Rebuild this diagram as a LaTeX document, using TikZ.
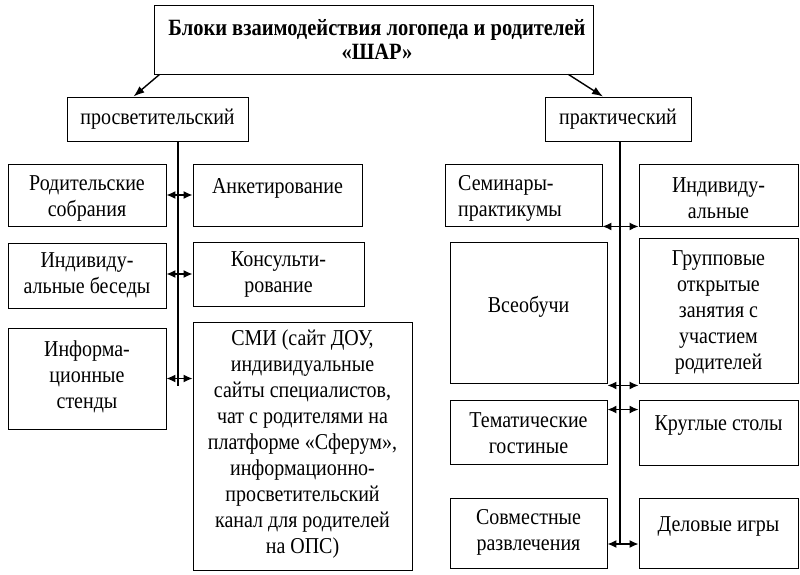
\documentclass[tikz,border=0pt]{standalone}
\usepackage{fontspec}
\setmainfont{Liberation Serif}[FakeStretch=0.88]
\usetikzlibrary{arrows.meta,calc}
\tikzset{
 boxst/.style={draw=black, line width=0.9pt, inner sep=0pt},
 txt/.style={align=center, font=\fontsize{22.7}{26}\selectfont, inner sep=0pt},
 ttl/.style={align=center, font=\fontsize{23.3}{24}\selectfont\bfseries, inner sep=0pt},
 dbl/.style={{Latex[length=9pt,width=8pt]}-{Latex[length=9pt,width=8pt]}, line width=1.4pt},
 trunk/.style={line width=1.8pt},
 downarr/.style={-{Latex[length=11pt,width=8pt]}, line width=1.4pt},
}
\newcommand{\bx}[6]{\node[boxst, minimum width=#4pt, minimum height=#5pt] (#1) at (#2,#3) {};}
\begin{document}
\begin{tikzpicture}[x=1pt,y=-1pt]
\useasboundingbox (0,0) rectangle (800,575);
% boxes
\bx{title}{373.5}{39.5}{439}{69}{}
\bx{pros}{157.5}{119}{181}{44}{}
\bx{prak}{618}{119}{146}{44}{}
\bx{rod}{87}{195}{158}{62}{}
\bx{ank}{277.5}{195}{169}{62}{}
\bx{ind}{87}{275.5}{158}{65}{}
\bx{kon}{278.5}{274}{171}{64}{}
\bx{inf}{87}{378.5}{158}{101}{}
\bx{smi}{302.5}{446}{219}{248}{}
\bx{sem}{523.5}{195}{157}{62}{}
\bx{indb}{718.5}{195}{159}{62}{}
\bx{vse}{528.5}{312.5}{157}{141}{}
\bx{grp}{718.5}{310.5}{159}{145}{}
\bx{tem}{528.5}{432}{157}{64}{}
\bx{kru}{718.5}{432.5}{159}{65}{}
\bx{sov}{528.5}{533}{157}{70}{}
\bx{del}{718.5}{533}{159}{70}{}
% texts
\node[ttl] (ttitle) at (377,39) {Блоки взаимодействия логопеда и родителей\\«ШАР»};
\node[txt] (tpros) at (pros) {просветительский};
\node[txt] (tprak) at (prak) {практический};
\node[txt] (trod) at ([yshift=-3pt]rod.center) {Родительские\\собрания};
\node[txt] (tank) at (277.5,188) {Анкетирование};
\node[txt] (tind) at (ind) {Индивиду-\\альные беседы};
\node[txt] (tkon) at (kon) {Консульти-\\рование};
\node[txt] (tinf) at ([yshift=2pt]inf.center) {Информа-\\ционные\\стенды};
\node[txt] (tsmi) at ([yshift=2pt]smi.center) {СМИ (сайт ДОУ,\\индивидуальные\\сайты специалистов,\\чат с родителями на\\платформе «Сферум»,\\информационно-\\просветительский\\канал для родителей\\на ОПС)};
\node[txt, align=left, anchor=west] (tsem) at (458,198) {Семинары-\\практикумы};
\node[txt] (tindb) at ([yshift=-3pt]indb.center) {Индивиду-\\альные};
\node[txt] (tvse) at (528.5,307) {Всеобучи};
\node[txt] (tgrp) at ([yshift=-2pt]grp.center) {Групповые\\открытые\\занятия с\\участием\\родителей};
\node[txt] (ttem) at ([yshift=-1pt]tem.center) {Тематические\\гостиные};
\node[txt] (tkru) at (718.5,426) {Круглые столы};
\node[txt] (tsov) at ([yshift=1pt]sov.center) {Совместные\\развлечения};
\node[txt] (tdel) at (718.5,526) {Деловые игры};
% trunks
\coordinate (lbot) at (178,386);
\coordinate (rbot) at (620,545);
\draw[trunk] (pros.south -| lbot) -- (lbot);
\draw[trunk] (prak.south -| rbot) -- (rbot);
% top arrows
\draw[downarr] ([xshift=6pt]title.south west) -- ([xshift=-24pt]pros.north);
\draw[downarr] ([xshift=-25pt]title.south east) -- ([xshift=-15pt]prak.north);
% left arrows
\draw[dbl] (rod.east) -- (ank.west);
\draw[dbl] (ind.east |- kon.west) -- (kon.west);
\draw[dbl] (inf.east) -- (inf.east -| smi.west);
% right arrows
\draw[dbl] (sem.south east) -- (indb.south west);
\draw[dbl] ([yshift=-2pt]vse.south east) -- ([yshift=-2pt]grp.south west);
\draw[dbl] ([yshift=-10pt]tem.north east) -- ([yshift=-10pt]tem.north east -| kru.west);
\draw[dbl] ([yshift=-11pt]sov.east) -- ([yshift=-11pt]sov.east -| del.west);
\end{tikzpicture}
\end{document}
